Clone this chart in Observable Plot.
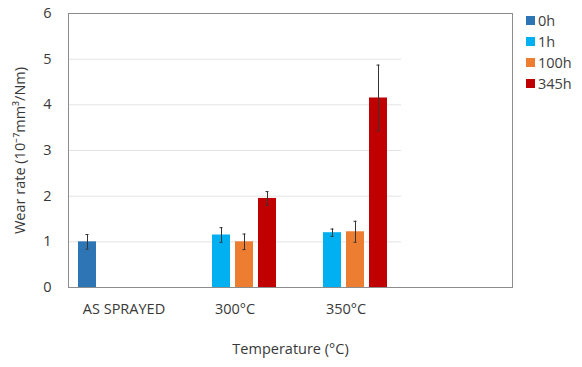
<!DOCTYPE html>
<html><head><meta charset="utf-8">
<script src="https://cdn.jsdelivr.net/npm/d3@7"></script>
<script src="https://cdn.jsdelivr.net/npm/@observablehq/plot@0.6"></script>
<style>
body{margin:0;background:#fff;font-family:"Open Sans",sans-serif;}
#wrap{position:relative;width:582px;height:367px;}
#legend{position:absolute;left:526px;top:10px;font-size:14.5px;color:#404040;}
.li{display:flex;align-items:center;height:21px;}
.sw{width:9px;height:9px;margin-right:3px;}
</style></head><body><div id="wrap"><div id="legend"></div></div>
<script>
const categories = ["AS SPRAYED", "300°C", "350°C", ""];
const series = ["0h", "1h", "100h", "345h"];
const colors = ["#2E75B6", "#00B0F0", "#ED7D31", "#C00000"];
const barCategory = ["AS SPRAYED", "300°C", "300°C", "300°C", "350°C", "350°C", "350°C"];
const barSeries = ["0h", "1h", "100h", "345h", "1h", "100h", "345h"];
const values = [1.0, 1.15, 1.0, 1.95, 1.2, 1.22, 4.15];
const errors = [0.16, 0.16, 0.17, 0.15, 0.08, 0.23, 0.72];
const yTicks = [0, 1, 2, 3, 4, 5, 6];
const gridTicks = [1, 2, 3, 4, 5];

const rows = values.map((v, i) => ({category: barCategory[i], series: barSeries[i], value: v, lo: v - errors[i], hi: v + errors[i]}));

const plot = Plot.plot({
  width: 582, height: 367,
  marginLeft: 67, marginRight: 70, marginTop: 13, marginBottom: 80,
  style: {fontFamily: "Open Sans", fontSize: "14.5px", color: "#383838", background: "white"},
  fx: {domain: categories, paddingInner: 0, paddingOuter: 0, label: "Temperature (°C)", labelAnchor: "center", labelOffset: 66, tickSize: 0, tickPadding: 16},
  x: {domain: series, axis: null, paddingInner: 0.21, paddingOuter: 0.42, align: 0.43},
  y: {domain: [0, 6], ticks: yTicks, tickFormat: d3.format("d"), tickSize: 0, tickPadding: 17, label: "Wear rate (10⁻⁷mm³/Nm)", labelAnchor: "center", labelArrow: false, labelOffset: 54},
  color: {domain: series, range: colors},
  marks: [
    Plot.ruleY(gridTicks, {stroke: "#e3e3e3"}),
    Plot.barY(rows, {fx: "category", x: "series", y: "value", fill: "series"}),
    Plot.ruleX(rows, {fx: "category", x: "series", y1: "lo", y2: "hi", stroke: "#333333", strokeWidth: 1}),
    Plot.tickY(rows, {fx: "category", x: "series", y: "lo", stroke: "#333333", inset: 7.5}),
    Plot.tickY(rows, {fx: "category", x: "series", y: "hi", stroke: "#333333", inset: 7.5}),
    Plot.frame({facet: "super", stroke: "#8c8c8c"})
  ]
});
document.getElementById("wrap").prepend(plot);
const lg = document.getElementById("legend");
series.forEach((s, i) => {
  const d = document.createElement("div"); d.className = "li";
  d.innerHTML = `<span class="sw" style="background:${colors[i]}"></span><span>${s}</span>`;
  lg.appendChild(d);
});
</script></body></html>
